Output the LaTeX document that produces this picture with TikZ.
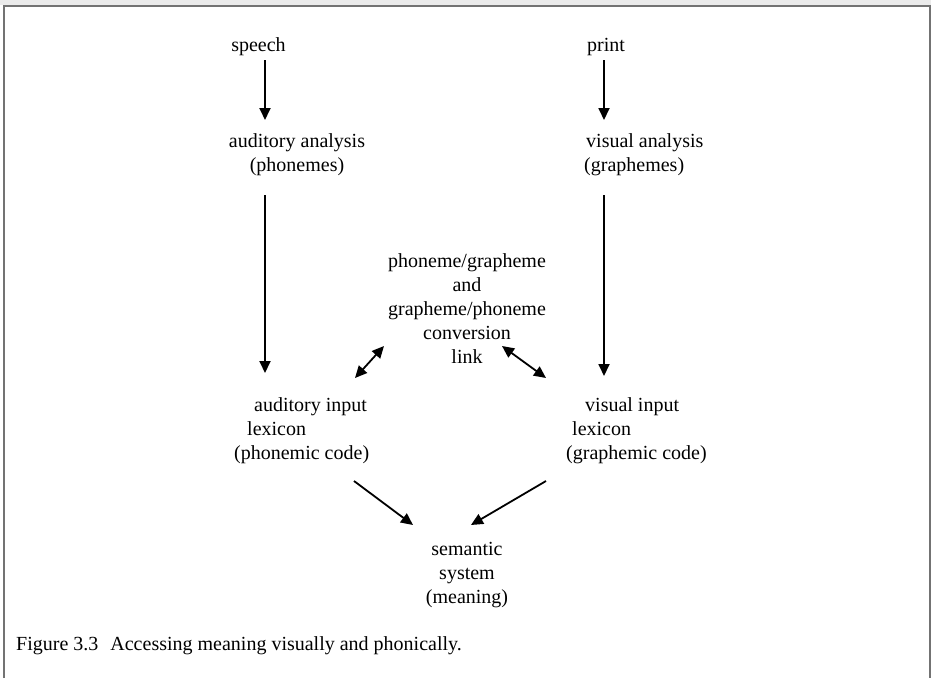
\documentclass[tikz,border=0pt]{standalone}
\usepackage{fontspec}
\setmainfont{Liberation Serif}
\usetikzlibrary{arrows.meta}
\tikzset{
  lbl/.style={inner sep=0pt, font=\fontsize{20}{24}\selectfont},
  arr/.style={line width=1.8pt, -{Triangle[length=12pt,width=11pt]}},
  dblarr/.style={line width=1.8pt, {Triangle[length=12pt,width=11pt]}-{Triangle[length=12pt,width=11pt]}},
  frame/.style={draw=black!55, line width=2pt}
}
\newcommand{\fl}{\rule{0pt}{15pt}}
\begin{document}
\begin{tikzpicture}[x=1pt,y=-1pt]
\useasboundingbox (0,0) rectangle (931,678);
% outer frame
\fill[black!8] (0,0) rectangle (931,5);
\draw[frame] (4,678) -- (4,6) -- (930,6) -- (930,678);

% inputs
\node[lbl, anchor=base] (speech) at (258.5,51) {speech};
\node[lbl, anchor=base] (print) at (606,51) {print};

% analysis stages
\node[lbl, anchor=north, align=center] (audan) at (297,132)
  {\fl auditory analysis\\(phonemes)};
\node[lbl, anchor=north west, align=left] (visan) at (584,132)
  {\fl\hspace*{2pt}visual analysis\\(graphemes)};

% conversion link
\node[lbl, anchor=north, align=center] (conv) at (467,252)
  {\fl phoneme/grapheme\\and\\grapheme/phoneme\\conversion\\link};

% input lexicons
\node[lbl, anchor=north west, align=left] (audin) at (234,396)
  {\fl\hspace*{20pt}auditory input\\\hspace*{13pt}lexicon\\(phonemic code)};
\node[lbl, anchor=north west, align=left] (visin) at (566,396)
  {\fl\hspace*{19pt}visual input\\\hspace*{6pt}lexicon\\(graphemic code)};

% semantic system
\node[lbl, anchor=north, align=center] (sem) at (467,540)
  {\fl semantic\\system\\(meaning)};

% caption
\node[lbl, anchor=base west] (cap) at (16,650)
  {Figure 3.3\hspace{0.35em} Accessing meaning visually and phonically.};

% arrow end points
\coordinate (s1) at (265,60);   \coordinate (e1) at (265,120);
\coordinate (s2) at (604,60);   \coordinate (e2) at (604,120);
\coordinate (s3) at (265,195);  \coordinate (e3) at (265,373);
\coordinate (s4) at (604,195);  \coordinate (e4) at (604,376);
\coordinate (l1) at (355,378);  \coordinate (l2) at (384,346);
\coordinate (r1) at (502,346);  \coordinate (r2) at (546,378);
\coordinate (s5) at (354,481);  \coordinate (e5) at (413,525);
\coordinate (s6) at (546,481);  \coordinate (e6) at (471,525);

\draw[arr] (s1) -- (e1);
\draw[arr] (s2) -- (e2);
\draw[arr] (s3) -- (e3);
\draw[arr] (s4) -- (e4);
\draw[dblarr] (l1) -- (l2);
\draw[dblarr] (r1) -- (r2);
\draw[arr] (s5) -- (e5);
\draw[arr] (s6) -- (e6);
\end{tikzpicture}
\end{document}
